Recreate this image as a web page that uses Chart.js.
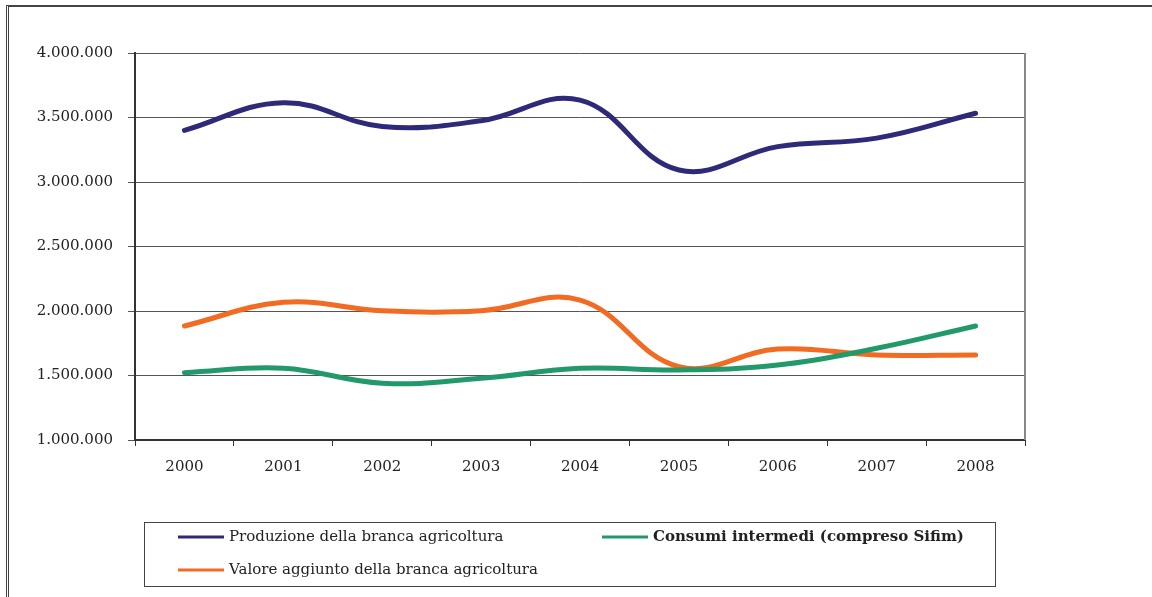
<!DOCTYPE html>
<html>
<head>
<meta charset="utf-8">
<script src="https://cdn.jsdelivr.net/npm/chart.js@4"></script>
<style>
    html, body { margin: 0; padding: 0; background: #fff; }
    #wrap { position: relative; width: 1152px; height: 597px; }
    #frame { position: absolute; left: 6px; top: 5px; right: 0; bottom: 0;
             border-left: 3px double #444; border-top: 2px solid #444; pointer-events: none; }
</style>
</head>
<body>
<div id="wrap">
    <canvas id="chart" width="1152" height="597"></canvas>
    <div id="frame"></div>
</div>
<script>
const years = ['2000', '2001', '2002', '2003', '2004', '2005', '2006', '2007', '2008'];
const produzione = [3400000, 3615000, 3430000, 3475000, 3635000, 3093000, 3274000, 3340000, 3533000];
const consumi = [1522000, 1556000, 1440000, 1478000, 1556000, 1543000, 1581000, 1711000, 1884000];
const valoreAggiunto = [1884000, 2067000, 2002000, 2002000, 2085000, 1568000, 1705000, 1659000, 1659000];
const seriesNames = ['Produzione della branca agricoltura', 'Consumi intermedi (compreso Sifim)', 'Valore aggiunto della branca agricoltura'];
const seriesColors = ['#2d2a7a', '#22996a', '#f26b23'];
const yMin = 1000000, yMax = 4000000, yStep = 500000;

function formatDots(v) {
    return String(v).replace(/\B(?=(\d{3})+(?!\d))/g, '.');
}

// legend box drawn by hand, like the original
const boxLegend = {
    id: 'boxLegend',
    afterDraw(chart) {
        const ctx = chart.ctx;
        ctx.save();
        ctx.strokeStyle = '#444';
        ctx.lineWidth = 1;
        ctx.strokeRect(144.5, 522.5, 851, 64);

        const items = [
            { i: 0, x: 178, y: 537, font: '15px "DejaVu Serif"' },
            { i: 1, x: 602, y: 537, font: 'bold 15px "DejaVu Serif"' },
            { i: 2, x: 178, y: 570, font: '15px "DejaVu Serif"' }
        ];
        items.forEach(function(it) {
            const ds = chart.data.datasets[it.i];
            ctx.strokeStyle = ds.borderColor;
            ctx.lineWidth = 3;
            ctx.beginPath();
            ctx.moveTo(it.x, it.y);
            ctx.lineTo(it.x + 46, it.y);
            ctx.stroke();
            ctx.fillStyle = '#222';
            ctx.font = it.font;
            ctx.textBaseline = 'middle';
            ctx.fillText(ds.label, it.x + 51, it.y);
        });
        ctx.restore();
    }
};

const ctx = document.getElementById('chart').getContext('2d');
new Chart(ctx, {
    type: 'line',
    data: {
        labels: years,
        datasets: [
            { label: seriesNames[0], data: produzione, borderColor: seriesColors[0] },
            { label: seriesNames[1], data: consumi, borderColor: seriesColors[1] },
            { label: seriesNames[2], data: valoreAggiunto, borderColor: seriesColors[2] }
        ].map(function(d) {
            return Object.assign(d, { borderWidth: 5, tension: 0.4, pointRadius: 0, fill: false, borderCapStyle: 'round' });
        })
    },
    options: {
        responsive: false,
        animation: false,
        layout: { padding: { top: 53, right: 127, bottom: 110, left: 0 } },
        plugins: {
            legend: { display: false },
            tooltip: { enabled: false }
        },
        scales: {
            x: {
                offset: true,
                afterFit: function(scale) { scale.height = 47; },
                grid: { display: true, drawOnChartArea: false, offset: true, tickLength: 6, color: '#333' },
                border: { color: '#333', width: 2 },
                ticks: { color: '#222', padding: 12, font: { family: 'DejaVu Serif', size: 15 } }
            },
            y: {
                min: yMin,
                max: yMax,
                afterFit: function(scale) { scale.width = 135; },
                grid: { color: '#555', tickLength: 7, lineWidth: 1 },
                border: { color: '#333', width: 2 },
                ticks: {
                    stepSize: yStep,
                    padding: 15,
                    color: '#222',
                    font: { family: 'DejaVu Serif', size: 15 },
                    callback: function(v) { return formatDots(v); }
                }
            }
        }
    },
    plugins: [boxLegend, {
        id: 'rightEdge',
        afterDraw(chart) {
            const a = chart.chartArea;
            const c = chart.ctx;
            c.save();
            c.strokeStyle = '#888';
            c.lineWidth = 2;
            c.beginPath();
            c.moveTo(a.right, a.top);
            c.lineTo(a.right, a.bottom);
            c.stroke();
            c.restore();
        }
    }]
});
</script>
</body>
</html>
